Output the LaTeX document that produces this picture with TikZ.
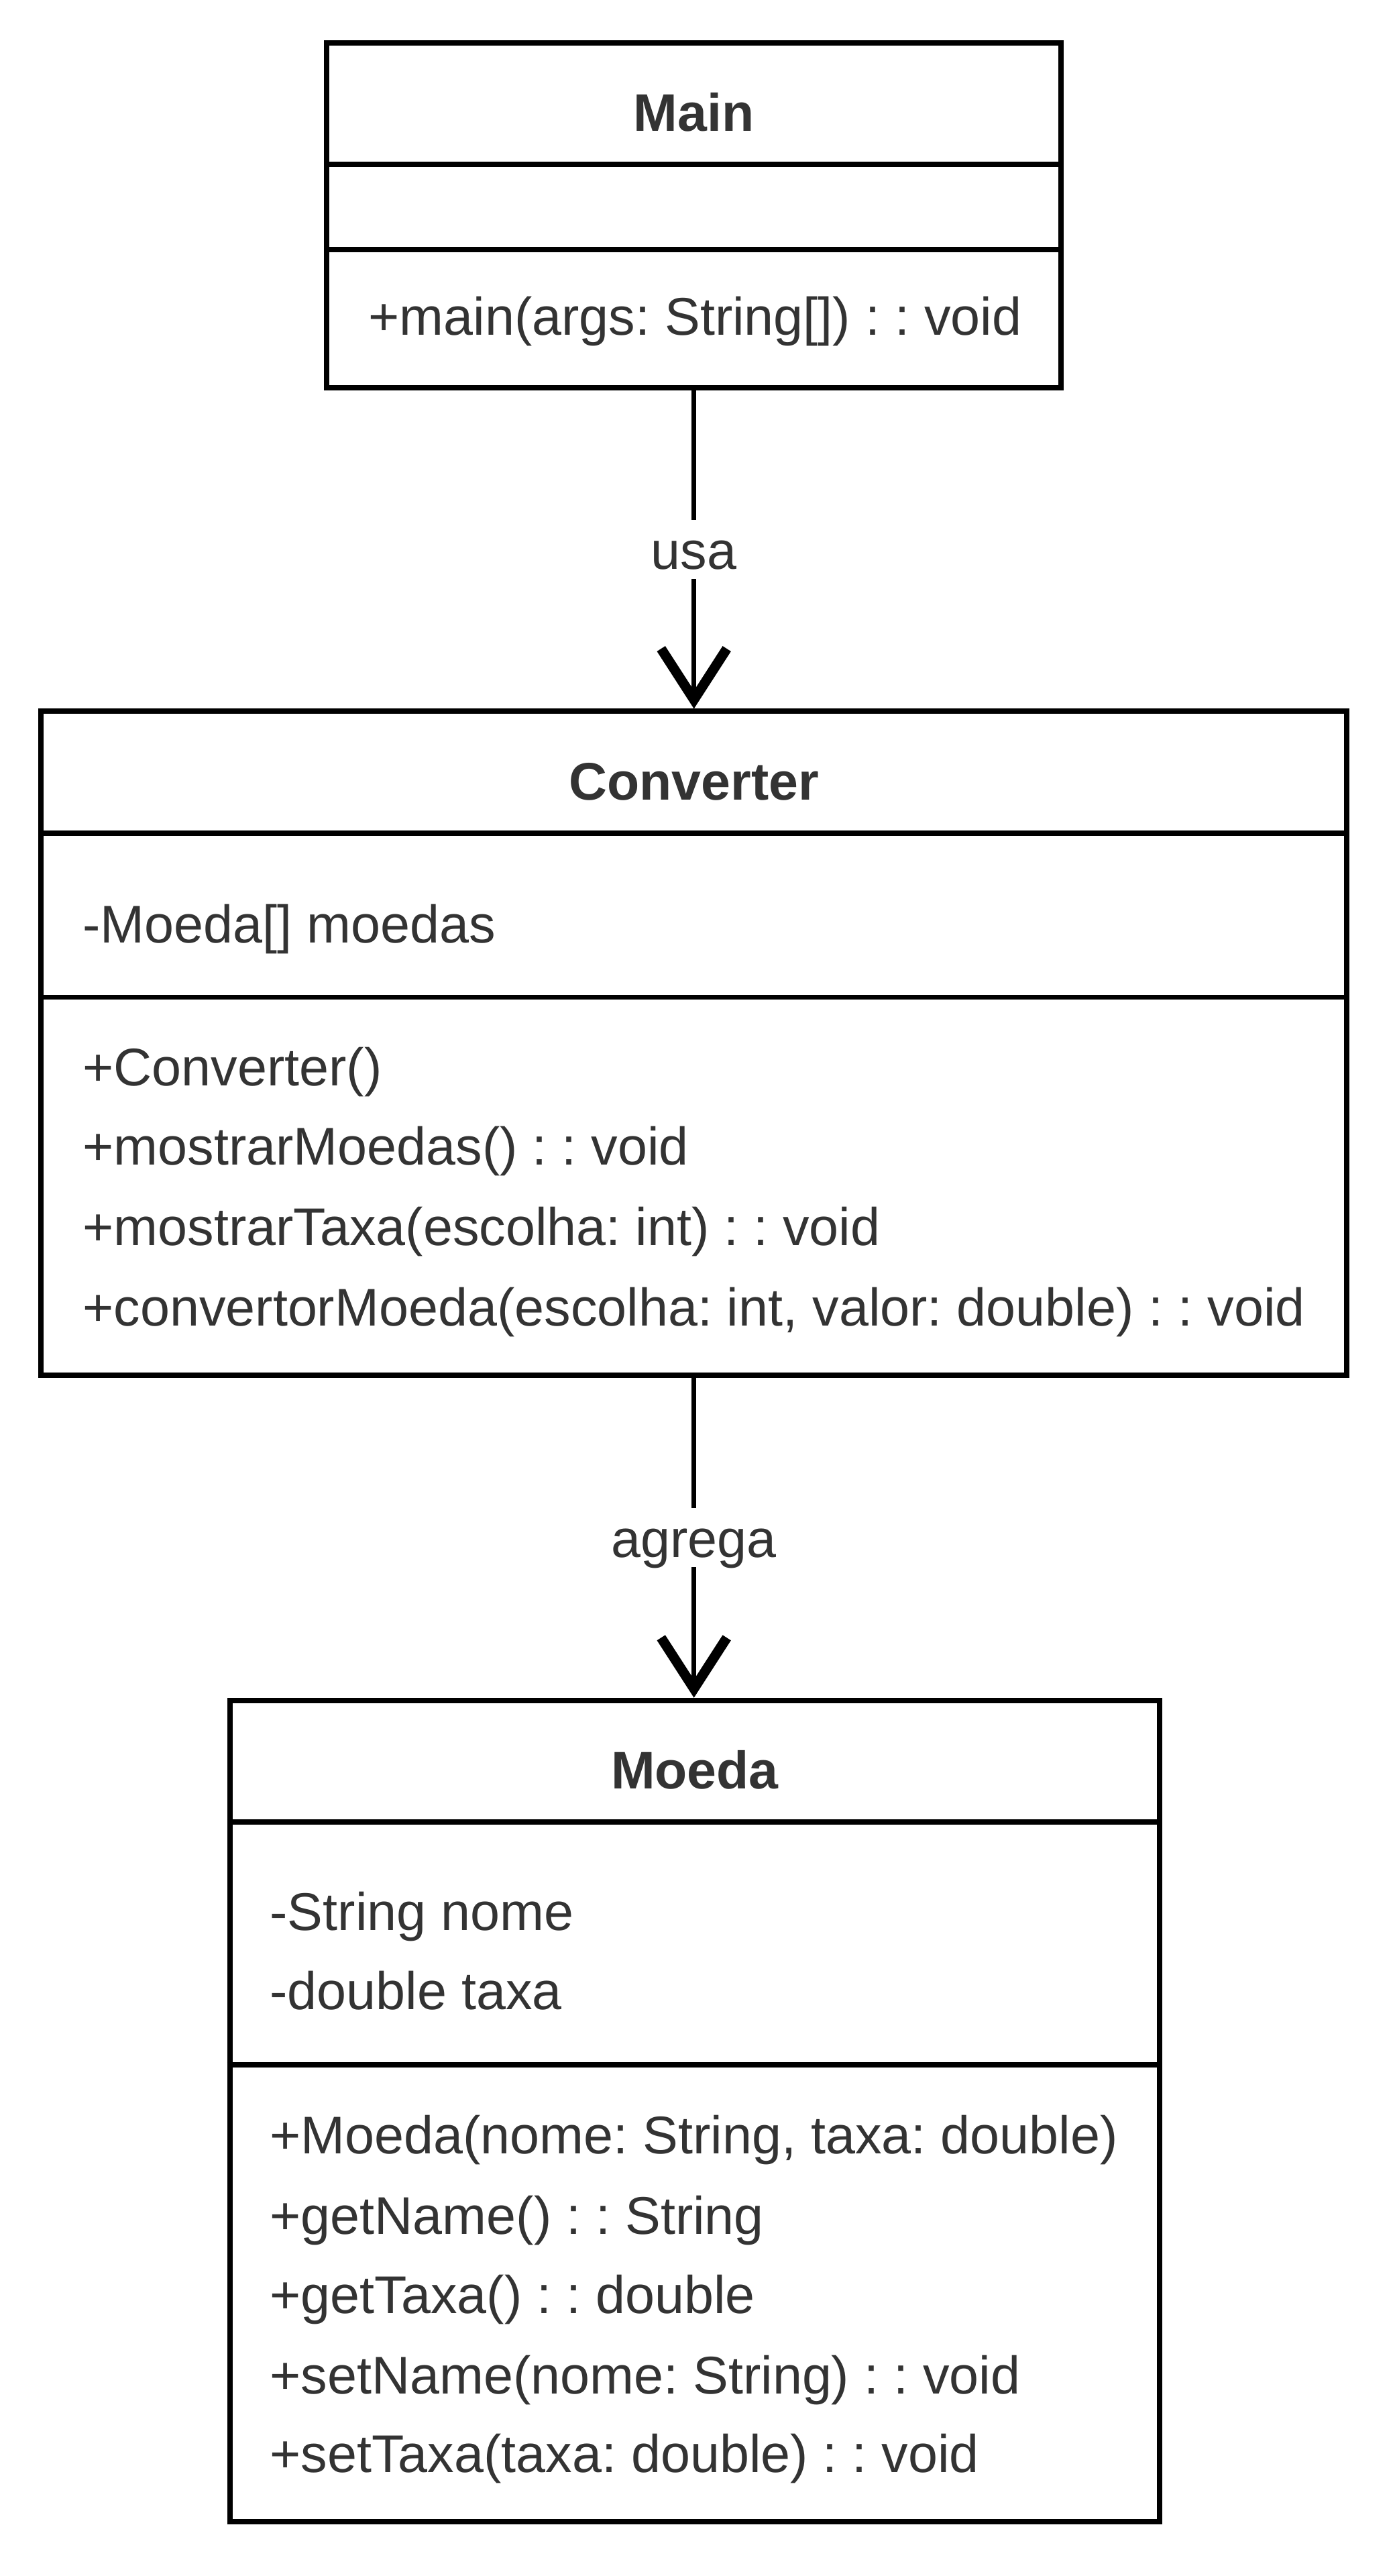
\documentclass[tikz,border=0pt]{standalone}
\usepackage{fontspec}
\setmainfont{Liberation Sans}
\frenchspacing
\usetikzlibrary{arrows.meta}
\definecolor{txtgray}{HTML}{333333}
\tikzset{
	classbox/.style={draw, line width=1.6pt, inner sep=0pt},
	divider/.style={line width=1.6pt},
	title/.style={font=\bfseries\fontsize{16.1}{19}\selectfont, text=txtgray, anchor=base, inner sep=0pt},
	member/.style={font=\fontsize{16.15}{19}\selectfont, text=txtgray, anchor=base west, inner sep=0pt},
	assoc/.style={line width=1.5pt, -{Straight Barb[length=15.5pt, width=20pt, line width=3pt]}},
	assoclabel/.style={midway, fill=white, font=\fontsize{16.15}{19}\selectfont, text=txtgray,
		inner sep=1pt, text height=14pt, text depth=2pt},
}
\begin{document}
\begin{tikzpicture}[x=0.5pt, y=-0.5pt]
		\useasboundingbox (0,0) rectangle (849,1568);

		\node[classbox, minimum width=223.5pt, minimum height=105pt] (main) at (422.5,131) {};
		\node[classbox, minimum width=397.5pt, minimum height=202pt] (conv) at (422.5,635) {};
		\node[classbox, minimum width=283pt, minimum height=250pt] (moeda) at (423,1285) {};

		\foreach \b/\y in {main/100, main/152, conv/507, conv/607, moeda/1109, moeda/1257}{
			\draw[divider] (\b.west |- 0,\y) -- (\b.east |- 0,\y);
		}

		\node[title] (mainname) at (422.5,80) {Main};
		\node[title] (convname) at (422.5,487) {Converter};
		\node[title] (moedaname) at (423,1089) {Moeda};

		\node[member] (mainop1) at (224,204) {+main(args: String[]) : : void};

		\node[member] (convattr1) at (50,574) {-Moeda[] moedas};
		\foreach \y/\txt [count=\i] in {650/{+Converter()}, 698/{+mostrarMoedas() : : void},
			747/{+mostrarTaxa(escolha: int) : : void},
			796/{+convertorMoeda(escolha: int, valor: double) : : void}}{
			\node[member] (convop\i) at (50,\y+11) {\txt};
		}

		\foreach \y/\txt [count=\i] in {1164/{-String nome}, 1212/{-double taxa}}{
			\node[member] (moedaattr\i) at (164,\y+11) {\txt};
		}
		\foreach \y/\txt [count=\i] in {1300/{+Moeda(nome: String, taxa: double)},
			1349/{+getName() : : String}, 1397/{+getTaxa() : : double},
			1446/{+setName(nome: String) : : void}, 1494/{+setTaxa(taxa: double) : : void}}{
			\node[member] (moedaop\i) at (164,\y+11) {\txt};
		}

		\draw[assoc] (main.south) -- (conv.north) node[assoclabel] {usa};
		\draw[assoc] (conv.south) -- (conv.south |- moeda.north) node[assoclabel] {agrega};
\end{tikzpicture}
\end{document}
